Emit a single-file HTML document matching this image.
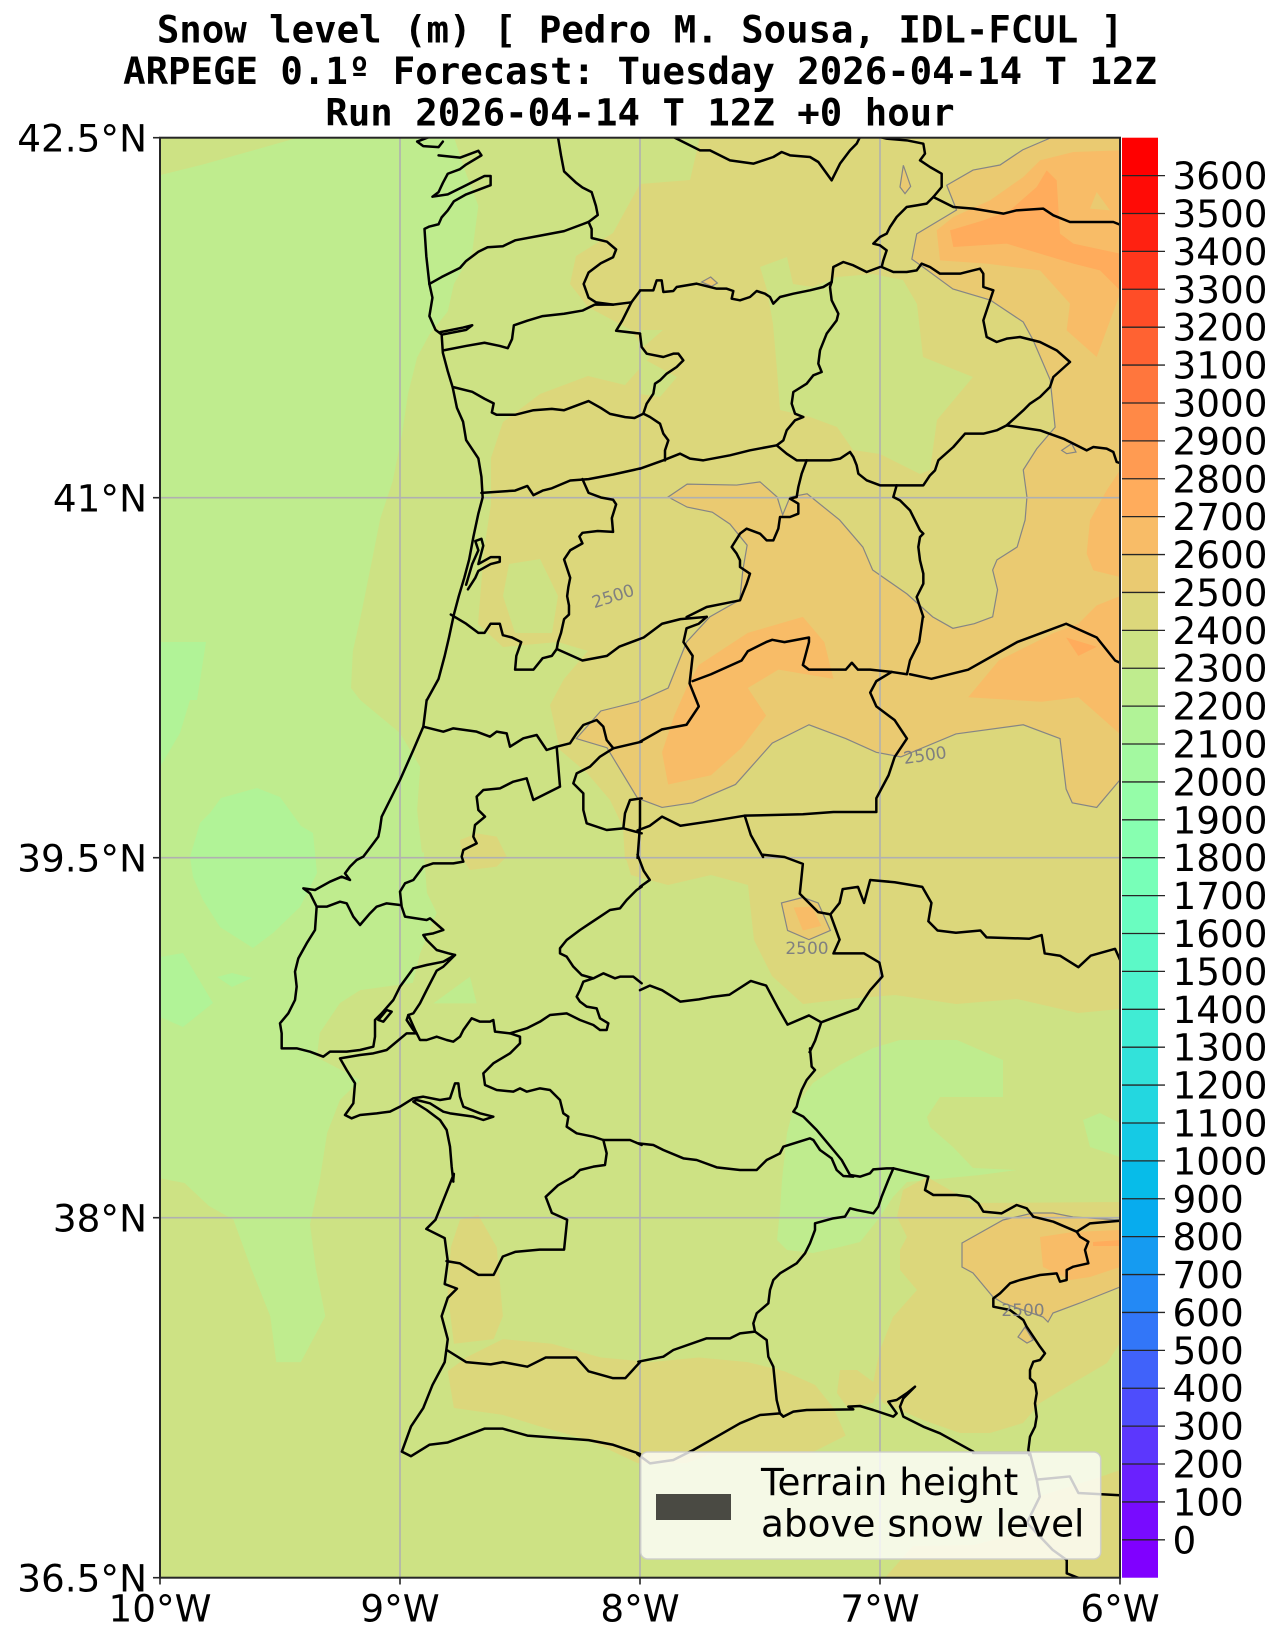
<!DOCTYPE html>
<html><head><meta charset="utf-8">
<style>
html,body{margin:0;padding:0;background:#fff;}
svg{display:block;}
.ln path{vector-effect:non-scaling-stroke;fill:none;stroke:#000;stroke-width:2.5;stroke-linejoin:round;stroke-linecap:round;}
.ct{vector-effect:non-scaling-stroke;stroke:#858585;stroke-width:1.2;}
text{font-family:"DejaVu Sans","Liberation Sans",sans-serif;}
</style></head>
<body>
<svg width="1283" height="1644" viewBox="0 0 1283 1644" xmlns="http://www.w3.org/2000/svg">
<defs><clipPath id="mc"><rect x="160" y="137.7" width="960" height="1440"/></clipPath></defs>
<rect width="1283" height="1644" fill="#fff"/>
<g clip-path="url(#mc)">
<rect x="160" y="137" width="960" height="1441" fill="#cde284"/>
<!-- green 2200-2300 -->
<g transform="translate(160,137) scale(0.612245,0.459184)" fill="#bfec8e">
<path d="M0,83 L70,60 150,30 229,0 480,0 500,80 520,150 510,250 480,320 470,380 440,430 420,480 405,560 395,650 380,750 360,830 345,930 330,1030 315,1120 312,1200 327,1226 392,1298 425,1372 420,1466 430,1585 0,1585Z"/>
</g>
<g transform="translate(160,857) scale(0.612245,0.459184)" fill="#bfec8e">
<path d="M0,-10 L431,-10 436,78 452,122 425,209 413,274 327,290 294,318 261,383 256,436 305,470 327,486 294,529 273,601 261,703 245,800 255,900 270,1000 230,1100 190,1100 180,1000 150,900 120,790 80,760 40,710 0,700Z"/>
</g>
<g fill="#bfec8e">
<path d="M793,1110 L813,1083 840,1065 873,1048 900,1040 957,1040 1003,1060 1003,1097 940,1097 927,1117 930,1127 953,1147 973,1168 1017,1170 980,1175 907,1182 893,1197 880,1217 860,1242 840,1247 813,1253 787,1250 777,1240 780,1210 782,1180 787,1133Z"/>
<path d="M1083,1120 L1100,1113 1120,1123 1120,1157 1090,1147Z"/>
</g>
<g transform="translate(160,700) scale(0.333333)" fill="#bfec8e"><path d="M820,910 L930,830 950,910Z"/></g>
<!-- light green 2100-2200 -->
<g fill="#b1f397">
<path d="M160,642 L206,642 197,700 190,700 180,733 160,767Z"/>
<path d="M193,877 L190,857 200,823 210,813 221,798 257,788 280,797 301,826 313,833 317,873 300,907 273,933 253,948 220,927 203,900Z"/>
<path d="M160,957 L183,953 213,1003 183,1027 160,1017Z"/>
<path d="M217,977 L232,973 252,978 232,987Z"/>
</g>
<!-- tan 2400-2500 -->
<g fill="#dcd77b">
<path d="M700,137 L1120,137 1120,860 625,860 623,827 610,800 587,773 560,750 550,705 564,679 588,651 558,642 503,647 478,624 484,550 491,504 491,458 503,422 540,394 588,376 625,385 650,357 631,330 588,307 570,284 576,256 613,233 640,184 690,180Z"/>
<path d="M625,855 L1120,855 1120,1009 1078,1013 1017,999 956,1004 895,995 846,999 803,1004 772,976 754,940 748,885 711,875 668,885 631,875Z"/>
<path d="M903,1190 L927,1177 973,1203 1120,1202 1120,1343 1107,1363 1073,1383 1040,1403 1023,1423 990,1433 960,1433 923,1420 900,1410 883,1403 873,1383 880,1350 893,1317 917,1290 900,1270 900,1250 907,1237 897,1217Z"/>
<path d="M840,1370 L857,1370 880,1387 873,1403 847,1407 837,1393Z"/>
<path d="M883,1580 L913,1546 974,1545 1030,1530 1037,1497 1100,1477 1120,1470 1120,1580Z"/>
</g>
<g transform="translate(160,857) scale(0.612245,0.459184)" fill="#dcd77b">
<path d="M480,1200 L470,1120 500,1090 560,1050 640,1060 720,1090 800,1100 880,1090 960,1100 1020,1120 1070,1150 1100,1200 1120,1260 1060,1300 1000,1300 900,1300 860,1320 780,1320 700,1270 620,1240 560,1215Z"/>
<path d="M490,790 L520,780 550,850 560,1000 545,1050 480,1060 470,950 475,850Z"/>
</g>
<g transform="translate(160,700) scale(0.333333)" fill="#dcd77b"><path d="M900,420 L950,400 1010,410 1040,470 1010,500 930,510 905,470Z"/></g>
<!-- yellow-green pockets -->
<g fill="#cde284">
<path d="M760,267 L787,257 793,284 813,287 837,277 873,274 903,280 917,304 923,357 973,377 937,420 930,470 920,474 880,454 853,450 837,427 810,417 780,410 777,370 773,324 767,290Z"/>
<path d="M640,330 L663,330 640,350Z"/>
<path d="M640,357 L677,377 660,397 640,394Z"/>
<path d="M509,564 L540,559 558,596 552,633 515,633 503,596Z"/>
</g>
<!-- 2500-2600 -->
<g transform="translate(160,137) scale(0.612245,0.459184)">
<path class="ct" fill="#eaca71" d="M1458,0 L1568,0 1568,1400 1530,1460 1490,1450 1480,1420 1470,1310 1410,1280 1300,1300 1210,1350 1170,1340 1120,1310 1060,1280 1000,1320 940,1410 870,1450 820,1460 780,1440 730,1330 680,1310 720,1250 780,1230 830,1200 860,1100 898,1045 947,1008 952,943 959,889 931,843 902,817 861,806 830,784 861,756 942,758 980,751 1008,784 1017,823 1029,784 1057,777 1110,834 1148,893 1164,943 1220,995 1262,1045 1295,1070 1330,1060 1360,1045 1368,986 1360,943 1367,921 1400,893 1413,834 1416,784 1410,725 1432,679 1462,632 1454,529 1426,442 1410,403 1356,355 1295,331 1246,283 1228,266 1236,211 1301,159 1285,105 1328,72 1372,61 1409,28Z"/>
</g>
<g transform="translate(160,857) scale(0.612245,0.459184)">
<path class="ct" fill="#eaca71" d="M1015,100 L1050,88 1075,100 1095,160 1060,180 1025,160Z"/>
<path fill="#f8bc67" d="M1035,110 L1065,108 1080,150 1050,160Z"/>
</g>
<path class="ct" fill="#eaca71" d="M962,1243 L1003,1220 1033,1213 1053,1213 1073,1217 1120,1220 1120,1287 1080,1303 1053,1313 1048,1322 1043,1317 1023,1310 1003,1303 993,1297 973,1273 962,1267Z"/>
<path class="ct" fill="#eaca71" d="M1018,1337 L1025,1327 1033,1340 1027,1343Z"/>
<path fill="#f8bc67" d="M1040,1237 L1073,1232 1120,1230 1120,1267 1090,1277 1070,1280 1043,1267Z"/>
<path fill="#ffac5c" d="M1093,1242 L1120,1240 1120,1246 1093,1246Z"/>
<g transform="translate(640,137) scale(0.333333)">
<path class="ct" fill="#eaca71" d="M790,85 L812,148 795,170 780,150Z"/>
<path class="ct" fill="#eaca71" d="M185,435 L212,420 232,438 215,448Z"/>
<path class="ct" fill="#eaca71" d="M1265,940 L1295,920 1308,945 1280,950Z"/>
<path fill="#f8bc67" d="M1050,190 L1150,120 1200,70 1300,45 1440,40 1440,470 1370,660 1280,580 1290,500 1200,400 1040,380 900,370 890,280 940,240Z"/>
<path fill="#f8bc67" d="M1440,1000 L1400,1060 1350,1150 1340,1250 1360,1300 1440,1320Z"/>
<path fill="#ffac5c" d="M930,280 L1030,250 1110,220 1190,150 1220,100 1250,130 1260,290 1300,320 1440,350 1440,460 1380,400 1300,380 1200,350 1100,320 940,330Z"/>
<path fill="#eaca71" d="M1350,215 L1370,165 1410,220Z"/>
</g>
<g transform="translate(160,137) scale(0.612245,0.459184)">
<path fill="#f8bc67" d="M880,1150 L960,1080 1050,1045 1085,1100 1100,1180 1010,1160 960,1200 990,1260 950,1330 900,1390 830,1410 820,1340 840,1260 860,1200Z"/>
<path fill="#f8bc67" d="M1320,1220 L1370,1140 1460,1080 1500,1060 1530,1020 1568,1000 1568,1300 1500,1220 1440,1230 1380,1225Z"/>
<path fill="#ffac5c" d="M1480,1090 L1530,1110 1500,1130Z"/>
</g>
<!-- grid -->
<g stroke="#b0b0b0" stroke-width="1.6">
<line x1="400" y1="137" x2="400" y2="1578"/>
<line x1="640" y1="137" x2="640" y2="1578"/>
<line x1="880" y1="137" x2="880" y2="1578"/>
<line x1="160" y1="497.7" x2="1120" y2="497.7"/>
<line x1="160" y1="857.7" x2="1120" y2="857.7"/>
<line x1="160" y1="1217.7" x2="1120" y2="1217.7"/>
</g>
<!-- borders top half -->
<g class="ln" transform="translate(160,137) scale(0.612245,0.459184)">
<path d="M440,0 L420,10 430,20 455,22 462,10"/>
<path d="M455,40 L490,45 520,30 525,40 500,60 490,70 470,80 462,100 455,120 445,130 470,125 500,105 530,85 540,85 540,105 500,125 480,140 470,160 460,175 455,190 440,195 432,200 435,260 440,320"/>
<path d="M440,320 L460,305 490,285 500,270 520,250 535,240 560,238 580,225 620,215 660,205 690,190 700,185 715,170 712,150 705,120 690,110 680,100 660,75 655,40 650,0"/>
<path d="M440,320 L445,350 440,390 450,420 460,430 462,470 470,510 478,545 485,590 495,620 500,660 520,700 525,740 527,785 520,820 512,870 505,920 497,960 488,1000 480,1040 472,1090 465,1130 455,1180 436,1226"/>
<path d="M500,975 L510,930 520,900 515,880 525,875 528,890 520,930 540,915 555,915 555,925 540,930 520,945 515,960 503,985"/>
<path d="M458,425 L495,415 510,410 500,420 462,430"/>
<path d="M462,465 L500,455 530,448 555,455 568,460 575,440 578,410 600,400 625,390 660,385 690,378 710,365 740,365 770,360 784,335"/>
<path d="M700,185 L705,200 705,220 730,228 745,245 740,262 720,275 700,295 692,320 700,350 712,360 740,365"/>
<path d="M770,360 L755,400 745,422 784,428"/>
<path d="M480,545 L510,555 530,570 545,580 542,600 550,605 580,605 610,595 640,592 660,595 690,580 700,575 720,590 735,603 760,610 775,612 789,603"/>
<path d="M525,775 L580,770 600,760 610,780 625,770 640,765 670,748 700,745 740,735 784,722"/>
<path d="M690,745 L700,775 720,785 740,790 745,800 738,830 740,860 715,858 690,862 685,870 690,885 670,900 660,920 665,940 670,960 667,980 665,1000 668,1020 668,1040 660,1050 655,1080 650,1100 648,1115"/>
<path d="M475,1040 L500,1060 520,1080 530,1080 540,1060 555,1060 560,1085 575,1090 590,1100 582,1130 580,1160 610,1160 625,1135 640,1130 648,1115 665,1125 690,1140 730,1130 750,1110 790,1090 820,1060 850,1050 893,1045"/>
<path d="M893,1045 L880,1060 860,1070 855,1100 870,1130 865,1190 880,1240 860,1280 820,1290 800,1305 784,1317"/>
<path d="M1246,1045 L1240,1100 1225,1140 1220,1170 1195,1165 1160,1160 1140,1160 1130,1145 1120,1160 1090,1160 1060,1160 1050,1150 1060,1100 1060,1090 1020,1100 1000,1095 990,1100 960,1120 950,1140 900,1170 870,1185"/>
<path d="M1225,1170 L1260,1180 1320,1160 1360,1130 1400,1100 1440,1080 1480,1060 1530,1090 1560,1140 1568,1145"/>
<path d="M1195,1165 L1170,1185 1160,1210 1170,1240 1200,1270 1220,1310 1200,1350 1190,1390 1170,1440 1170,1470 1100,1470 1050,1475 955,1478 965,1520 985,1568"/>
<path d="M784,1446 L784,1500 780,1570"/>
<path d="M780,1510 L800,1500 820,1480 850,1500 900,1490 955,1478"/>
</g>
<!-- Z11 lines -->
<g class="ln" transform="translate(640,137) scale(0.333333)">
<path d="M0,460 L40,460 50,430 65,430 70,465 100,462 110,450 170,440 230,455 260,455 280,462 275,485 300,490 330,480 350,462 375,470 390,480 400,500 420,480 460,470 510,460 550,450 575,435 580,390 610,375 640,385 680,405 720,390"/>
<path d="M100,0 L180,40 210,40 270,70 340,80 400,60 425,45 450,55 510,60 535,75 575,130 600,80 630,40 650,20 660,0"/>
<path d="M720,0 L740,5 800,10 850,20 855,50 840,70 870,90 905,110 905,150 880,180 860,200 830,205 800,210 770,240 750,270 740,290 720,300 700,320 720,325 740,340 730,370 725,390"/>
<path d="M880,180 L940,210 1000,215 1090,230 1130,220 1210,215 1240,235 1290,255 1360,255 1420,255 1445,265"/>
<path d="M725,390 L760,405 800,405 830,400 845,380 870,390 900,410 960,410 1000,400 1020,395 1030,410 1030,450 1060,460 1050,490 1040,520 1030,550 1040,600 1070,615 1100,605 1140,600 1200,615 1250,640 1290,675 1240,720 1230,750 1200,780 1170,800 1150,820 1100,865 1070,880 1030,890 975,890 940,930 895,970 885,1000 870,1015 850,1045 780,1045 720,1045 680,1030 655,1010 650,985 640,960 630,945 600,965 570,970 500,970 470,970 440,950 410,925 330,940 270,955 190,970 150,965 120,950 70,970 0,995"/>
<path d="M1100,865 L1200,880 1270,905 1340,940 1360,930 1400,935 1420,945 1430,975 1445,980"/>
<path d="M575,435 L570,450 575,490 595,530 590,550 560,590 540,640 535,680 545,705 520,715 500,740 460,765 455,800 465,830 490,840 465,850 440,880 430,910 410,925"/>
<path d="M500,970 L485,1010 475,1050 470,1080 450,1085 475,1100 475,1130 450,1140 420,1140 415,1175 400,1210 380,1210 360,1190 320,1175 300,1190 275,1230 290,1250 300,1270 300,1290 330,1310 320,1340 300,1390 250,1400 200,1410 140,1440"/>
<path d="M770,1045 L760,1080 780,1090 810,1120 830,1160 840,1180 850,1190 840,1200 835,1230 840,1270 850,1310 850,1340 830,1380 840,1410 850,1440"/>
<path d="M0,590 L5,630 20,650 70,660 100,650 115,650 130,670 110,690 80,710 60,730 45,740 40,770 20,800 10,830 30,840 60,860 70,890 85,910 75,940 75,970"/>
</g>
<!-- Z10 lines -->
<g class="ln" transform="translate(160,700) scale(0.333333)">
<path d="M800,0 L790,80 760,150 720,240 690,300 665,350 660,385 655,410 640,430 610,470 590,480 570,500 555,520 570,540 545,530 510,545 465,570 430,565 450,580 470,620 465,690 440,730 415,775 405,815 410,860 405,900 385,940 360,970 365,1000 365,1045 410,1045 450,1055 490,1070 510,1055 560,1055 600,1050 640,1040 645,1010 645,960 665,940 700,900 720,860 760,805 800,795 850,785 885,765 850,800 830,812 800,870 780,910 760,940 745,945 740,960 760,990 770,1000 740,1000 680,1050 640,1060 600,1065 540,1075 560,1110 585,1150 580,1210 555,1245 575,1255 600,1245 650,1240 690,1235 720,1220 760,1195 790,1190 840,1200 870,1195 885,1150 895,1150 900,1190 910,1220 960,1240 1000,1250 970,1260 940,1250 870,1240 850,1235 810,1210 770,1200 760,1205 800,1230 840,1260 860,1290 870,1340 875,1400 880,1445"/>
<path d="M655,960 L680,930 695,935 670,965Z"/>
<path d="M790,80 L850,95 880,85 950,95 990,110 1010,95 1040,100 1050,140 1090,115 1130,105 1160,150 1190,140 1230,130 1250,100 1270,75 1310,60 1330,80 1340,120 1360,145 1320,170 1290,200 1250,220 1240,250 1270,280 1270,330 1280,370 1340,390 1390,385 1395,340 1410,300 1445,295"/>
<path d="M1360,145 L1445,125"/>
<path d="M1390,385 L1445,400"/>
<path d="M1190,140 L1200,260 1120,300 1100,235 1060,245 1020,265 970,270 950,290 955,330 975,350 945,375 940,410 950,430 910,450 905,470 910,485 880,490 820,490 790,500 760,540 735,550 720,575 725,620 735,650 800,660 810,655 850,690 820,700 790,705 800,720 830,750 865,760 885,765"/>
<path d="M470,620 L500,620 540,605 560,610 580,650 600,675 630,640 650,620 680,610 720,615"/>
<path d="M745,945 L765,990 780,1020 800,1020 830,1010 860,1020 880,1025 900,1010 910,990 935,955 960,965 990,965 1000,960 1005,995 1050,1000 1080,1010 1080,1030 1050,1060 1000,1090 970,1120 975,1155 1010,1170 1060,1175 1080,1165 1100,1175 1140,1165 1170,1170 1200,1200 1210,1240 1225,1250 1220,1280 1250,1300 1300,1310 1330,1320 1360,1320 1410,1320 1445,1335"/>
<path d="M1330,1320 L1340,1360 1335,1395 1300,1400 1260,1410 1240,1430"/>
<path d="M1050,1000 L1100,985 1140,965 1170,945 1220,940 1260,960 1300,975 1320,990 1340,990 1345,970 1320,955 1310,925 1280,920 1260,905 1250,890 1260,870 1270,845 1300,835 1330,820 1365,835 1380,830 1420,830 1445,850"/>
<path d="M1300,835 L1265,825 1240,800 1220,770 1200,760 1200,745 1220,720 1260,690 1290,670 1320,650 1350,630 1380,625 1400,600 1430,570 1445,560"/>
</g>
<!-- Z9 lines -->
<g class="ln" transform="translate(160,857) scale(0.612245,0.459184)">
<path d="M479,703 L480,690 465,740 450,790 435,810 465,830 470,880 465,930 485,940 470,960 460,1000 470,1050 465,1100 445,1150 430,1200 410,1240 395,1295 410,1305 440,1280 470,1275 500,1260 530,1245 560,1245 600,1260 650,1265 700,1270 740,1280 784,1300"/>
<path d="M1328,1298 L1421,1298 1432,1356 1437,1393 1416,1450 1458,1509 1481,1531 1481,1560 1500,1570"/>
<path d="M1432,1356 L1486,1349 1500,1385 1568,1390"/>
<path d="M470,1075 L500,1100 540,1105 560,1100 600,1110 630,1090 680,1090 700,1120 740,1135 760,1135 784,1100"/>
<path d="M675,696 L650,715 630,740 640,775 665,790 660,855 620,855 580,860 560,870 545,910 520,910 490,885 468,880"/>
<path d="M985,-5 L1020,0 1050,15 1045,80 1075,120 1095,125 1110,100 1115,70 1140,65 1150,100 1160,50 1200,55 1245,65 1260,100 1255,140 1270,160 1300,165 1340,160 1350,175 1420,178 1440,170 1445,210 1470,215 1500,240 1520,215 1560,200 1570,230"/>
<path d="M1095,125 L1110,180 1100,210 1150,210 1175,230 1180,260 1160,290 1150,310 1140,330 1100,350 1080,360 1070,400 1061,425"/>
<path d="M1080,360 L1060,345 1025,365 1010,330 990,280 965,270 930,300 900,305 880,310 850,315 820,290 800,280 784,290"/>
<path d="M780,-5 L790,30 800,50 784,65"/>
</g>
<!-- Z12 lines (SE) -->
<g class="ln" transform="translate(640,1050) scale(0.333333)">
<path d="M510,-5 L515,50 525,60 500,90 485,120 475,150 470,170 460,185 490,200 530,240 580,300 605,330 630,375 660,380 690,370 700,358 740,355 760,355 865,380 855,420 880,435 950,435 990,440 1015,460 1030,485 1085,490 1130,465 1160,475 1180,500 1240,515 1310,545 1350,520 1445,512"/>
<path d="M-5,280 L40,285 70,300 130,325 170,330 230,352 300,360 350,360 380,330 420,310 430,290 510,265 520,270 540,300 575,325 590,360 610,378 640,380"/>
<path d="M760,355 L745,390 725,440 715,470 700,490 650,480 630,475 615,500 580,505 525,520 525,540 510,580 495,610 470,640 420,670 400,690 390,720 385,760 350,790 340,820 345,845 300,850 270,865 200,865 100,900 70,920 -5,935"/>
<path d="M345,845 L380,870 385,920 400,950 405,1000 410,1050 420,1090 430,1100"/>
<path d="M-8,1212 L30,1240 100,1230 150,1205 160,1200 230,1160 300,1120 360,1095 420,1090 430,1100 460,1085 500,1080 640,1078 625,1070 660,1068 700,1080 760,1100 770,1090 745,1055 770,1050 800,1030 825,1010 790,1045 780,1070 790,1100 850,1130 900,1150 1000,1205"/>
<path d="M1310,545 L1320,560 1345,575 1335,600 1345,640 1300,650 1280,660 1280,690 1260,695 1250,670 1200,675 1140,690 1110,700 1080,730 1060,745 1060,770 1110,780 1150,810 1160,830 1180,860 1200,890 1215,910 1200,930 1180,935 1170,960 1170,985 1185,1000 1190,1030 1185,1060 1190,1100 1185,1130 1170,1160 1165,1200 1168,1215"/>
</g>
<!-- contour labels -->
<g fill="#808080" font-size="17">
<text x="613" y="602" text-anchor="middle" transform="rotate(-18 613 596)">2500</text>
<text x="925" y="761" text-anchor="middle" transform="rotate(-8 925 755)">2500</text>
<text x="807" y="954" text-anchor="middle">2500</text>
<text x="1023" y="1316" text-anchor="middle">2500</text>
</g>
</g>
<!-- legend -->
<rect x="640.7" y="1452" width="460" height="107" rx="7" fill="#ffffff" fill-opacity="0.8" stroke="#cccccc" stroke-opacity="0.9" stroke-width="1.5"/>
<rect x="656" y="1494" width="75" height="26" fill="#4a4a43"/>
<text x="761" y="1495" font-size="37.33" fill="#000">Terrain height</text>
<text x="761" y="1536.7" font-size="37.33" fill="#000">above snow level</text>
<!-- frame -->
<rect x="160" y="137.7" width="960" height="1440" fill="none" stroke="#262626" stroke-width="2"/>
<g stroke="#262626" stroke-width="1.6">
<line x1="153" y1="137.7" x2="160" y2="137.7"/><line x1="153" y1="497.7" x2="160" y2="497.7"/><line x1="153" y1="857.7" x2="160" y2="857.7"/><line x1="153" y1="1217.7" x2="160" y2="1217.7"/><line x1="153" y1="1577.7" x2="160" y2="1577.7"/>
<line x1="160" y1="1577.7" x2="160" y2="1584.5"/><line x1="400" y1="1577.7" x2="400" y2="1584.5"/><line x1="640" y1="1577.7" x2="640" y2="1584.5"/><line x1="880" y1="1577.7" x2="880" y2="1584.5"/><line x1="1120" y1="1577.7" x2="1120" y2="1584.5"/>
</g>
<g font-size="37.33" fill="#000" text-anchor="end">
<text x="147" y="151.7">42.5°N</text>
<text x="147" y="511.7">41°N</text>
<text x="147" y="871.7">39.5°N</text>
<text x="147" y="1231.7">38°N</text>
<text x="147" y="1591.7">36.5°N</text>
</g>
<g font-size="37.33" fill="#000" text-anchor="middle">
<text x="160" y="1621.7">10°W</text>
<text x="400" y="1621.7">9°W</text>
<text x="640" y="1621.7">8°W</text>
<text x="880" y="1621.7">7°W</text>
<text x="1120" y="1621.7">6°W</text>
</g>
<!-- colorbar -->
<g>
<rect x="1122" y="137.70" width="36" height="38.4" fill="#ff0000"/>
<rect x="1122" y="175.60" width="36" height="38.4" fill="#ff0b06"/>
<rect x="1122" y="213.49" width="36" height="38.4" fill="#ff2111"/>
<rect x="1122" y="251.39" width="36" height="38.4" fill="#ff371c"/>
<rect x="1122" y="289.28" width="36" height="38.4" fill="#ff4d27"/>
<rect x="1122" y="327.18" width="36" height="38.4" fill="#ff6232"/>
<rect x="1122" y="365.07" width="36" height="38.4" fill="#ff763d"/>
<rect x="1122" y="402.97" width="36" height="38.4" fill="#ff8947"/>
<rect x="1122" y="440.86" width="36" height="38.4" fill="#ff9b52"/>
<rect x="1122" y="478.76" width="36" height="38.4" fill="#ffac5c"/>
<rect x="1122" y="516.65" width="36" height="38.4" fill="#f8bc67"/>
<rect x="1122" y="554.55" width="36" height="38.4" fill="#eaca71"/>
<rect x="1122" y="592.44" width="36" height="38.4" fill="#dcd77b"/>
<rect x="1122" y="630.34" width="36" height="38.4" fill="#cde284"/>
<rect x="1122" y="668.23" width="36" height="38.4" fill="#bfec8e"/>
<rect x="1122" y="706.13" width="36" height="38.4" fill="#b1f397"/>
<rect x="1122" y="744.02" width="36" height="38.4" fill="#a3f9a0"/>
<rect x="1122" y="781.92" width="36" height="38.4" fill="#95fda8"/>
<rect x="1122" y="819.81" width="36" height="38.4" fill="#87ffb0"/>
<rect x="1122" y="857.71" width="36" height="38.4" fill="#78ffb8"/>
<rect x="1122" y="895.60" width="36" height="38.4" fill="#6afdc0"/>
<rect x="1122" y="933.50" width="36" height="38.4" fill="#5cf9c7"/>
<rect x="1122" y="971.39" width="36" height="38.4" fill="#4ef3ce"/>
<rect x="1122" y="1009.29" width="36" height="38.4" fill="#40ecd4"/>
<rect x="1122" y="1047.18" width="36" height="38.4" fill="#32e2da"/>
<rect x="1122" y="1085.08" width="36" height="38.4" fill="#23d7e0"/>
<rect x="1122" y="1122.97" width="36" height="38.4" fill="#15cae5"/>
<rect x="1122" y="1160.87" width="36" height="38.4" fill="#07bce9"/>
<rect x="1122" y="1198.76" width="36" height="38.4" fill="#07acee"/>
<rect x="1122" y="1236.66" width="36" height="38.4" fill="#159bf1"/>
<rect x="1122" y="1274.55" width="36" height="38.4" fill="#2389f5"/>
<rect x="1122" y="1312.45" width="36" height="38.4" fill="#3276f8"/>
<rect x="1122" y="1350.34" width="36" height="38.4" fill="#4062fa"/>
<rect x="1122" y="1388.24" width="36" height="38.4" fill="#4e4dfc"/>
<rect x="1122" y="1426.13" width="36" height="38.4" fill="#5c37fd"/>
<rect x="1122" y="1464.03" width="36" height="38.4" fill="#6a21fe"/>
<rect x="1122" y="1501.92" width="36" height="38.4" fill="#780bff"/>
<rect x="1122" y="1539.82" width="36" height="37.9" fill="#8000ff"/>
</g>
<g stroke="#262626" stroke-width="1.3">
<line x1="1122" x2="1165" y1="175.60" y2="175.60"/><line x1="1122" x2="1165" y1="213.49" y2="213.49"/><line x1="1122" x2="1165" y1="251.39" y2="251.39"/><line x1="1122" x2="1165" y1="289.28" y2="289.28"/><line x1="1122" x2="1165" y1="327.18" y2="327.18"/><line x1="1122" x2="1165" y1="365.07" y2="365.07"/><line x1="1122" x2="1165" y1="402.97" y2="402.97"/><line x1="1122" x2="1165" y1="440.86" y2="440.86"/><line x1="1122" x2="1165" y1="478.76" y2="478.76"/><line x1="1122" x2="1165" y1="516.65" y2="516.65"/><line x1="1122" x2="1165" y1="554.55" y2="554.55"/><line x1="1122" x2="1165" y1="592.44" y2="592.44"/><line x1="1122" x2="1165" y1="630.34" y2="630.34"/><line x1="1122" x2="1165" y1="668.23" y2="668.23"/><line x1="1122" x2="1165" y1="706.13" y2="706.13"/><line x1="1122" x2="1165" y1="744.02" y2="744.02"/><line x1="1122" x2="1165" y1="781.92" y2="781.92"/><line x1="1122" x2="1165" y1="819.81" y2="819.81"/><line x1="1122" x2="1165" y1="857.71" y2="857.71"/><line x1="1122" x2="1165" y1="895.60" y2="895.60"/><line x1="1122" x2="1165" y1="933.50" y2="933.50"/><line x1="1122" x2="1165" y1="971.39" y2="971.39"/><line x1="1122" x2="1165" y1="1009.29" y2="1009.29"/><line x1="1122" x2="1165" y1="1047.18" y2="1047.18"/><line x1="1122" x2="1165" y1="1085.08" y2="1085.08"/><line x1="1122" x2="1165" y1="1122.97" y2="1122.97"/><line x1="1122" x2="1165" y1="1160.87" y2="1160.87"/><line x1="1122" x2="1165" y1="1198.76" y2="1198.76"/><line x1="1122" x2="1165" y1="1236.66" y2="1236.66"/><line x1="1122" x2="1165" y1="1274.55" y2="1274.55"/><line x1="1122" x2="1165" y1="1312.45" y2="1312.45"/><line x1="1122" x2="1165" y1="1350.34" y2="1350.34"/><line x1="1122" x2="1165" y1="1388.24" y2="1388.24"/><line x1="1122" x2="1165" y1="1426.13" y2="1426.13"/><line x1="1122" x2="1165" y1="1464.03" y2="1464.03"/><line x1="1122" x2="1165" y1="1501.92" y2="1501.92"/><line x1="1122" x2="1165" y1="1539.82" y2="1539.82"/>
</g>
<g font-size="37.33" fill="#000">
<text x="1172.5" y="189.1">3600</text><text x="1172.5" y="227.0">3500</text><text x="1172.5" y="264.9">3400</text><text x="1172.5" y="302.8">3300</text><text x="1172.5" y="340.7">3200</text><text x="1172.5" y="378.6">3100</text><text x="1172.5" y="416.5">3000</text><text x="1172.5" y="454.4">2900</text><text x="1172.5" y="492.3">2800</text><text x="1172.5" y="530.2">2700</text><text x="1172.5" y="568.0">2600</text><text x="1172.5" y="605.9">2500</text><text x="1172.5" y="643.8">2400</text><text x="1172.5" y="681.7">2300</text><text x="1172.5" y="719.6">2200</text><text x="1172.5" y="757.5">2100</text><text x="1172.5" y="795.4">2000</text><text x="1172.5" y="833.3">1900</text><text x="1172.5" y="871.2">1800</text><text x="1172.5" y="909.1">1700</text><text x="1172.5" y="947.0">1600</text><text x="1172.5" y="984.9">1500</text><text x="1172.5" y="1022.8">1400</text><text x="1172.5" y="1060.7">1300</text><text x="1172.5" y="1098.6">1200</text><text x="1172.5" y="1136.5">1100</text><text x="1172.5" y="1174.4">1000</text><text x="1172.5" y="1212.3">900</text><text x="1172.5" y="1250.2">800</text><text x="1172.5" y="1288.1">700</text><text x="1172.5" y="1326.0">600</text><text x="1172.5" y="1363.8">500</text><text x="1172.5" y="1401.7">400</text><text x="1172.5" y="1439.6">300</text><text x="1172.5" y="1477.5">200</text><text x="1172.5" y="1515.4">100</text><text x="1172.5" y="1553.3">0</text>
</g>
<!-- title -->
<g font-weight="bold" font-size="37.33" fill="#000" text-anchor="middle">
<text x="640" y="42.5" style="font-family:'DejaVu Sans Mono','Liberation Mono',monospace">Snow level (m) [ Pedro M. Sousa, IDL-FCUL ]</text>
<text x="640" y="84" style="font-family:'DejaVu Sans Mono','Liberation Mono',monospace">ARPEGE 0.1º Forecast: Tuesday 2026-04-14 T 12Z</text>
<text x="640" y="125.3" style="font-family:'DejaVu Sans Mono','Liberation Mono',monospace">Run 2026-04-14 T 12Z +0 hour</text>
</g>
</svg>
</body></html>
